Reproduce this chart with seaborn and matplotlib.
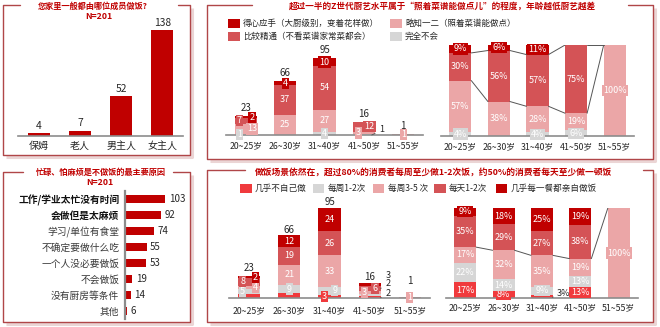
import numpy as np
import matplotlib
matplotlib.use("Agg")
import matplotlib.pyplot as plt
from matplotlib.lines import Line2D
from matplotlib.patches import Rectangle
import seaborn as sns

# ---------------- data ----------------
cook_members = ["保姆", "老人", "男主人", "女主人"]
cook_counts = [4, 7, 52, 138]

reasons = ["工作/学业太忙没有时间", "会做但是太麻烦", "学习/单位有食堂", "不确定要做什么吃",
           "一个人没必要做饭", "不会做饭", "没有厨房等条件", "其他"]
reason_counts = [103, 92, 74, 55, 53, 19, 14, 6]

age_groups = ["20~25岁", "26~30岁", "31~40岁", "41~50岁", "51~55岁"]

skill_names = ["完全不会", "略知一二（照着菜谱能做点）",
               "比较精通（不看菜谱家常菜都会）", "得心应手（大厨级别，变着花样做）"]
skill_none = [1, 0, 4, 1, 0]
skill_basic = [13, 25, 27, 3, 1]
skill_good = [7, 37, 54, 12, 0]
skill_expert = [2, 4, 10, 0, 0]

freq_names = ["几乎不自己做", "每周1-2次", "每周3-5 次", "每天1-2次", "几乎每一餐都亲自做饭"]
freq_never = [4, 5, 3, 2, 0]
freq_week_low = [5, 9, 9, 2, 0]
freq_week_high = [4, 21, 33, 3, 1]
freq_daily = [8, 19, 26, 6, 0]
freq_every_meal = [2, 12, 24, 3, 0]

# ---------------- style ----------------
RED_DARK = "#C00000"
RED_MID = "#D45356"
PINK = "#EBA6A7"
GRAY = "#D6D6D6"
RED_BRIGHT = "#F03A3D"
TITLE_RED = "#C00000"
FRAME = "#B04648"
AXIS_GRAY = "#8C8C8C"
TEXT = "#262626"
LINE = "#555555"

sns.set_theme(style="white")
plt.rcParams["font.family"] = ["Noto Sans CJK SC", "DejaVu Sans"]
plt.rcParams["axes.unicode_minus"] = False

W, H = 660, 327
fig = plt.figure(figsize=(W / 100, H / 100), dpi=100)
fig.patch.set_facecolor("white")


def fx(x):
    return x / W


def fy(y):
    return 1 - y / H


def panel_axes(x0, y0, x1, y1):
    ax = fig.add_axes([fx(x0), fy(y1), (x1 - x0) / W, (y1 - y0) / H])
    ax.set_facecolor("none")
    for s in ax.spines.values():
        s.set_visible(False)
    return ax


def fig_line(xs, ys, **kw):
    fig.add_artist(Line2D([fx(x) for x in xs], [fy(y) for y in ys],
                          transform=fig.transFigure, **kw))


def draw_frame(x0, y0, x1, y1, gap0, gap1):
    fig_line([x0 + 3, x1 + 2, x1 + 2], [y1 + 2, y1 + 2, y0 + 3],
             color="#EBD5D5", lw=2.2, solid_capstyle="butt")
    fig_line([gap0, x0, x0, x1, x1, gap1], [y0, y0, y1, y1, y0, y0],
             color=FRAME, lw=1.0)


def title_text(x, y, s, size=6.3):
    fig.text(fx(x), fy(y), s, ha="center", va="center", fontsize=size,
             color=TITLE_RED, fontweight="bold")


def legend_item(x, y, color, label, size=6.1):
    fig.add_artist(Rectangle((fx(x), fy(y + 4.5)), 11.5 / W, 9 / H, transform=fig.transFigure,
                             facecolor=color, edgecolor="none"))
    fig.text(fx(x + 15), fy(y), label, ha="left", va="center", fontsize=size, color=TEXT)


def base_axis(ax, n, ymax, pad, labelsize=6.3):
    ax.set_xlim(-0.5, n - 0.5)
    ax.set_ylim(0, ymax)
    ax.set_yticks([])
    ax.set_xlabel("")
    ax.set_ylabel("")
    ax.spines["bottom"].set_visible(True)
    ax.spines["bottom"].set_color(AXIS_GRAY)
    ax.spines["bottom"].set_linewidth(1.2)
    ax.tick_params(axis="x", length=0, pad=pad, labelsize=labelsize, labelcolor=TEXT)


def stacked_bars(ax, layers, colors, width):
    cum = np.cumsum(np.asarray(layers, dtype=float), axis=0)
    for k in range(len(layers) - 1, -1, -1):
        sns.barplot(x=age_groups, y=cum[k], color=colors[k], saturation=1, width=width,
                    errorbar=None, linewidth=0, ax=ax)
    return cum


def seg_label(ax, x, y, s, fc, size=6.5):
    ax.text(x, y, s, ha="center", va="center", fontsize=size, color="white", zorder=6,
            bbox=dict(boxstyle="square,pad=0.12", fc=fc, ec="none"))


def series_lines(ax, cum_row, width):
    for i in range(len(cum_row) - 1):
        ax.plot([i + width / 2, i + 1 - width / 2], [cum_row[i], cum_row[i + 1]],
                color=LINE, lw=0.7, zorder=4)


# ---------------- frames and titles ----------------
draw_frame(3, 5, 190, 155, 20, 178)
draw_frame(3, 172, 190, 322, 23, 173)
draw_frame(207, 5, 653, 159, 252, 628)
draw_frame(207, 170, 653, 322, 245, 643)

title_text(92.5, 6.5, "您家里一般都由哪位成员做饭?", 5.9)
title_text(99, 16.5, "N=201", 6.3)
title_text(101, 172.5, "忙碌、怕麻烦是不做饭的最主要原因", 5.9)
title_text(100, 182.5, "N=201", 6.3)
title_text(442, 6.5, "超过一半的Z世代厨艺水平属于“照着菜谱能做点儿”的程度，年龄越低厨艺越差", 6.2)
title_text(434, 172.5, "做饭场景依然在，超过80%的消费者每周至少做1-2次饭，约50%的消费者每天至少做一顿饭", 6.3)

# ---------------- who cooks ----------------
ax1 = panel_axes(18, 21, 183, 136)
sns.barplot(x=cook_members, y=cook_counts, color=RED_DARK, saturation=1, width=0.53,
            errorbar=None, linewidth=0, ax=ax1)
base_axis(ax1, 4, 150, 3.5, labelsize=7.2)
for i, v in enumerate(cook_counts):
    ax1.annotate(str(v), (i, v), xytext=(0, 5.2), textcoords="offset points",
                 ha="center", va="center", fontsize=7.4, color=TEXT)

# ---------------- reasons for not cooking ----------------
ax2 = panel_axes(125, 191, 180, 319)
sns.barplot(x=reason_counts, y=reasons, orient="h", color=RED_DARK, saturation=1, width=0.56,
            errorbar=None, linewidth=0, ax=ax2)
ax2.set_xlim(0, 140)
ax2.set_ylim(7.5, -0.5)
ax2.set_xticks([])
ax2.set_xlabel("")
ax2.set_ylabel("")
ax2.spines["left"].set_visible(True)
ax2.spines["left"].set_color(AXIS_GRAY)
ax2.spines["left"].set_linewidth(1.6)
ax2.tick_params(axis="y", length=0, pad=4, labelsize=7)
for i, lab in enumerate(ax2.get_yticklabels()):
    if i < 2:
        lab.set_fontweight("bold")
        lab.set_color("#111111")
    else:
        lab.set_color("#3A3A3A")
for i, v in enumerate(reason_counts):
    ax2.annotate(str(v), (v, i), xytext=(2.5, 0), textcoords="offset points",
                 ha="left", va="center", fontsize=7, color=TEXT)

# ---------------- cooking skill ----------------
skill_layers = [skill_none, skill_basic, skill_good, skill_expert]
skill_colors = [GRAY, PINK, RED_MID, RED_DARK]

legend_item(228, 23.5, RED_DARK, skill_names[3])
legend_item(390, 23.5, PINK, skill_names[1])
legend_item(228, 36.5, RED_MID, skill_names[2])
legend_item(390, 36.5, GRAY, skill_names[0])

ax3 = panel_axes(226, 45, 423, 135)
cum3 = stacked_bars(ax3, skill_layers, skill_colors, 0.56)
base_axis(ax3, 5, 111, 4.8)
skill_totals = cum3[-1]
skill_nudge = {(0, 0): -0.16, (0, 1): 0.16, (0, 2): -0.16, (0, 3): 0.16,
               (3, 1): -0.14, (3, 2): 0.14}
skill_leader = {(3, 0): ((3.2, 0.0), (3.4, 6.2))}
for k, layer in enumerate(skill_layers):
    for i, v in enumerate(layer):
        if v == 0:
            continue
        yc = cum3[k][i] - v / 2
        if (i, k) in skill_leader:
            xy, xytext = skill_leader[(i, k)]
            ax3.annotate(str(v), xy=xy, xytext=xytext, ha="left", va="center", fontsize=6.5,
                         color=TEXT, arrowprops=dict(arrowstyle="-", lw=0.6, color=LINE,
                                                     shrinkA=1, shrinkB=0))
            continue
        seg_label(ax3, i + skill_nudge.get((i, k), 0), yc, str(v), skill_colors[k])
for i, t in enumerate(skill_totals):
    ax3.annotate(f"{int(t)}", (i, t), xytext=(0, 6), textcoords="offset points",
                 ha="center", va="center", fontsize=7, color=TEXT)

ax4 = panel_axes(441, 45, 634, 136)
skill_share = [np.asarray(l, dtype=float) / skill_totals * 100 for l in skill_layers]
cum4 = stacked_bars(ax4, skill_share, skill_colors, 0.57)
base_axis(ax4, 5, 100, 4.2)
series_lines(ax4, cum4[1], 0.57)
series_lines(ax4, cum4[2], 0.57)
for k, layer in enumerate(skill_share):
    for i, v in enumerate(layer):
        if v == 0:
            continue
        seg_label(ax4, i, cum4[k][i] - v / 2, f"{int(np.floor(v + 0.5))}%", skill_colors[k])

# ---------------- cooking frequency ----------------
freq_layers = [freq_never, freq_week_low, freq_week_high, freq_daily, freq_every_meal]
freq_colors = [RED_BRIGHT, GRAY, PINK, RED_MID, RED_DARK]

for (x, c, s) in [(240, RED_BRIGHT, freq_names[0]), (312.5, GRAY, freq_names[1]),
                  (372.5, PINK, freq_names[2]), (434, RED_MID, freq_names[3]),
                  (495.5, RED_DARK, freq_names[4])]:
    legend_item(x, 188.3, c, s, size=6.2)

ax5 = panel_axes(229, 208, 430, 298)
cum5 = stacked_bars(ax5, freq_layers, freq_colors, 0.55)
base_axis(ax5, 5, 95, 5.6)
freq_totals = cum5[-1]
freq_nudge = {(0, 1): -0.16, (0, 2): 0.16, (0, 3): -0.16, (0, 4): 0.16,
              (2, 0): -0.13, (2, 1): 0.13, (3, 2): -0.13, (3, 3): 0.13}
freq_hidden = {(0, 0), (1, 0)}
freq_leader = {(3, 4): (None, (3.4, 24.0)),
               (3, 1): ((3.27, 10.0), (3.4, 14.8)),
               (3, 0): ((3.27, 0.3), (3.4, 4.4))}
for k, layer in enumerate(freq_layers):
    for i, v in enumerate(layer):
        if v == 0 or (i, k) in freq_hidden:
            continue
        yc = cum5[k][i] - v / 2
        if (i, k) in freq_leader:
            xy, xytext = freq_leader[(i, k)]
            if xy is None:
                ax5.text(*xytext, str(v), ha="left", va="center", fontsize=6.5, color=TEXT)
            else:
                ax5.annotate(str(v), xy=xy, xytext=xytext, ha="left", va="center", fontsize=6.5,
                             color=TEXT, arrowprops=dict(arrowstyle="-", lw=0.6, color=LINE,
                                                         shrinkA=1, shrinkB=0))
            continue
        seg_label(ax5, i + freq_nudge.get((i, k), 0), yc, str(v), freq_colors[k])
total_offsets = [6, 4, 4, 4.5, 11.5]
for i, t in enumerate(freq_totals):
    ax5.annotate(f"{int(t)}", (i, t), xytext=(0, total_offsets[i]), textcoords="offset points",
                 ha="center", va="center", fontsize=7, color=TEXT)

ax6 = panel_axes(446, 208, 638, 298)
freq_share = [np.asarray(l, dtype=float) / freq_totals * 100 for l in freq_layers]
cum6 = stacked_bars(ax6, freq_share, freq_colors, 0.57)
base_axis(ax6, 5, 100, 4.0)
series_lines(ax6, cum6[2], 0.57)
for k, layer in enumerate(freq_share):
    for i, v in enumerate(layer):
        if v == 0:
            continue
        s = f"{int(np.floor(v + 0.5))}%"
        if (i, k) == (2, 0):
            ax6.annotate(s, xy=(2.27, 0.8), xytext=(2.38, 4.6), ha="left", va="center",
                         fontsize=6.5, color=TEXT,
                         arrowprops=dict(arrowstyle="-", lw=0.6, color=LINE, shrinkA=1, shrinkB=0))
            continue
        seg_label(ax6, i, cum6[k][i] - v / 2, s, freq_colors[k])

fig.savefig("out.png", dpi=100, facecolor="white")
